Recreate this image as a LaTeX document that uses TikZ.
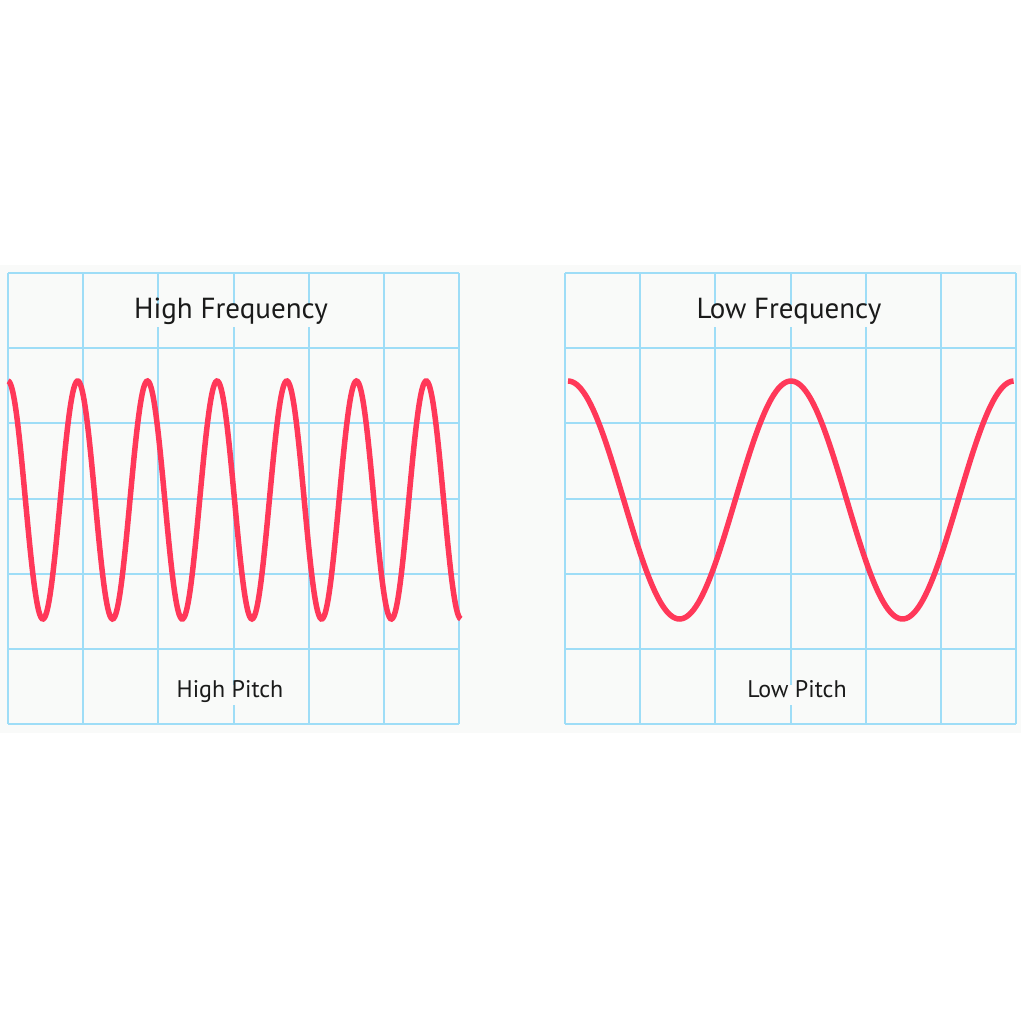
\documentclass[tikz,border=0pt]{standalone}
\usepackage{fontspec}
\setmainfont{PT Sans}
\definecolor{gridblue}{HTML}{9EDDF7}
\definecolor{wavered}{HTML}{FF3859}
\definecolor{panelbg}{HTML}{F9FAF9}
\definecolor{txt}{HTML}{1A1A1A}
\begin{document}
\begin{tikzpicture}[x=1pt,y=-1pt,
  gridline/.style={draw=gridblue,line width=2pt},
  wave/.style={draw=wavered,line width=5.5pt},
  title/.style={fill=panelbg,text=txt,font=\fontsize{29}{33}\selectfont,inner xsep=5pt,inner ysep=6pt,text height=0.72em,text depth=0.22em},
  sublabel/.style={fill=panelbg,text=txt,font=\fontsize{24}{28}\selectfont,inner xsep=5pt,inner ysep=5pt,text height=0.72em,text depth=0.22em}]
\useasboundingbox[fill=white] (0,0) rectangle (1024,1024);
\fill[panelbg] (0,265) rectangle (1021,733);
% left grid
\foreach \i in {0,...,6}{
  \draw[gridline] ({8+\i*75.17},273) -- ({8+\i*75.17},724);
  \draw[gridline] (8,{273+\i*75.17}) -- (459,{273+\i*75.17});
}
% right grid
\foreach \i in {0,...,6}{
  \draw[gridline] ({565+\i*75.17},273) -- ({565+\i*75.17},724);
  \draw[gridline] (565,{273+\i*75.17}) -- (1016,{273+\i*75.17});
}
% labels
\node[title] (hf) at (231,316) {High Frequency};
\node[sublabel] (hp) at (230,695) {High Pitch};
\node[title] (lf) at (789,316) {Low Frequency};
\node[sublabel] (lp) at (797,695) {Low Pitch};
% waves
\draw[wave] plot[domain=0:6.5,samples=400,smooth,variable=\t] ({8+69.7*\t},{500-119*cos(360*\t)});
\draw[wave] plot[domain=0:2,samples=200,smooth,variable=\t] ({568+223*\t},{500-119*cos(360*\t)});
\end{tikzpicture}
\end{document}
